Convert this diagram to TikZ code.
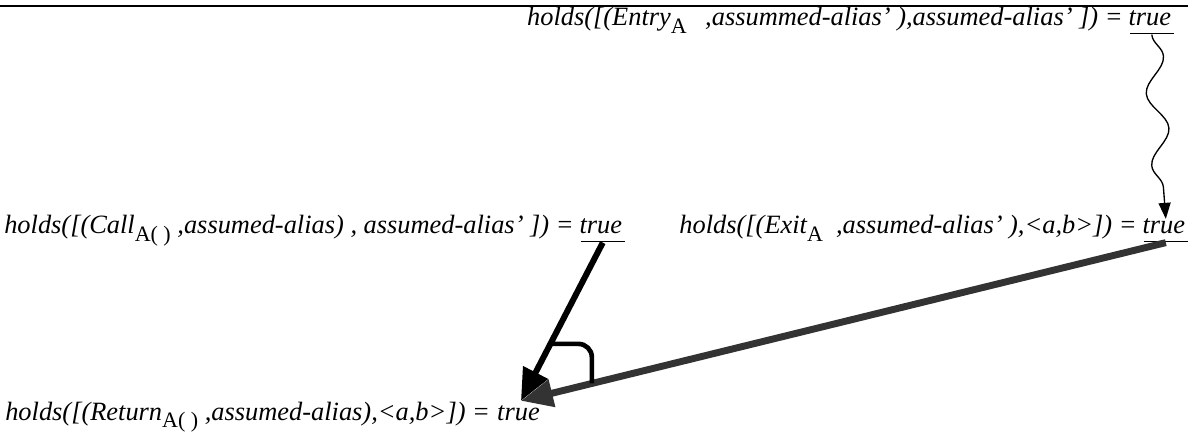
\documentclass[tikz,border=0pt]{standalone}
\usepackage{fontspec}
\setmainfont{Liberation Serif}
\usetikzlibrary{arrows.meta,decorations.pathmorphing,calc}
\newcommand{\subtx}[1]{\raisebox{-0.65ex}{\fontsize{16.5}{17}\selectfont\upshape #1}}
\newcommand{\truemark}{\underline{\kern-1pt true\kern2pt\vphantom{y}}}
\begin{document}
\begin{tikzpicture}[x=0.75pt,y=-0.75pt,
        every node/.style={inner sep=0pt, font=\fontsize{19.8}{24}\selectfont\itshape},
        fact/.style={anchor=base east},
        truth/.style={anchor=base west},
        bolt/.style={line width=4.5pt, -{Triangle[length=24pt,width=20pt]}},
        weave/.style={line width=1pt, -{Triangle[length=12pt,width=9pt]},
            decorate, decoration={snake, amplitude=7.5pt, segment length=54pt, post length=12pt}},
    ]
    \useasboundingbox (0,0) rectangle (1188,441);
    \draw[line width=1.8pt] (0,6) -- (1188,6);
    % top
    \node[anchor=base east] (entrytrue) at (1174,26) {\truemark};
    \node[fact] (entry) at (entrytrue.base west) {holds([(Entry\subtx{A}\hspace{0.7em},assummed-alias’ ),assumed-alias’ ]) =\kern5pt};
    % middle
    \node[anchor=base west] (call) at (4,234) {holds([(Call\subtx{A( )} ,assumed-alias) , assumed-alias’ ]) =\kern5pt};
    \node[truth] (calltrue) at (call.base east) {\truemark};
    \node[anchor=base east] (exittrue) at (1188,234) {\truemark};
    \node[fact] (exit) at (exittrue.base west) {holds([(Exit\subtx{A}\ \ ,assumed-alias’ ),<a,b>]) =\kern5pt};
    % bottom
    \node[anchor=base west] (ret) at (5,420) {holds([(Return\subtx{A( )} ,assumed-alias),<a,b>]) =\kern5pt};
    \node[truth] (rettrue) at (ret.base east) {true};
    \coordinate (meet) at ($(rettrue.north west)+(24,-4)$);
    % connectors
    \draw[weave] (entrytrue.south) -- (exittrue.north);
    \draw[bolt] (calltrue.south) -- (meet);
    \draw[bolt, line width=5.2pt, black!80] (exittrue.south) -- (meet);
    \coordinate (h1) at ($(calltrue.south)!0.64!(meet)$);
    \coordinate (h2) at ($(exittrue.south)!0.89!(meet)$);
    \draw[line width=3.5pt, rounded corners=10pt] (h1) -- (h1 -| h2) -- (h2);
\end{tikzpicture}
\end{document}
